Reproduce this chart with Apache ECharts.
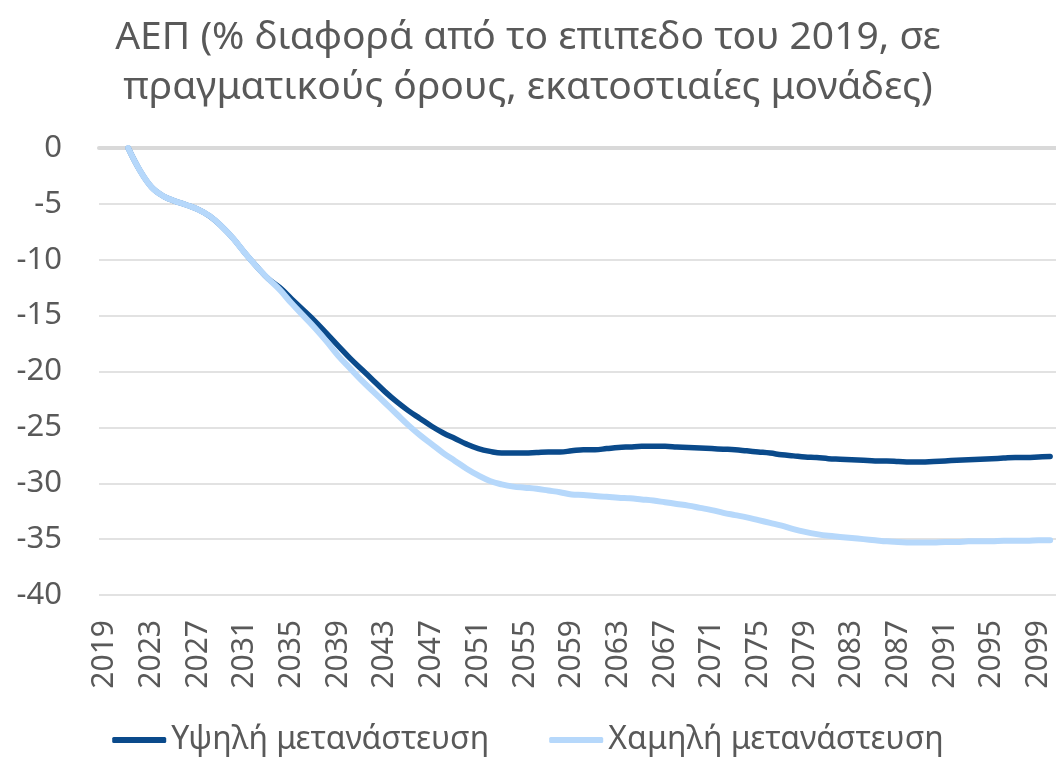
<!DOCTYPE html>
<html>
<head>
<meta charset="utf-8">
<script src="https://cdn.jsdelivr.net/npm/echarts@6/dist/echarts.min.js"></script>
<style>
  html, body { margin: 0; padding: 0; background: #fff; }
  #chart { width: 1056px; height: 757px; }
</style>
</head>
<body>
<div id="chart"></div>
<script>
// χρόνια 2019..2100
var years = [];
for (var y = 2019; y <= 2100; y++) years.push(String(y));

// Υψηλή μετανάστευση (2019, 2020 κενά)
var highMig = [null, null,
  0, -2.0, -3.5, -4.3, -4.75, -5.1, -5.5, -6.1, -7.0, -8.1,
  -9.4, -10.6, -11.7, -12.5, -13.5, -14.5, -15.5, -16.6, -17.7, -18.8,
  -19.8, -20.8, -21.8, -22.7, -23.5, -24.2, -24.9, -25.5, -26.0, -26.5,
  -26.9, -27.15, -27.3, -27.3, -27.3, -27.25, -27.2, -27.2, -27.1, -27.0,
  -27.0, -26.9, -26.8, -26.75, -26.7, -26.7, -26.7, -26.75, -26.8, -26.85,
  -26.9, -26.95, -27.0, -27.1, -27.2, -27.3, -27.45, -27.55, -27.65, -27.7,
  -27.8, -27.85, -27.9, -27.95, -28.0, -28.0, -28.05, -28.1, -28.1, -28.05,
  -28.0, -27.95, -27.9, -27.85, -27.8, -27.75, -27.7, -27.7, -27.65, -27.6
];

// Χαμηλή μετανάστευση
var lowMig = [null, null,
  0, -2.0, -3.5, -4.3, -4.75, -5.1, -5.5, -6.1, -7.0, -8.1,
  -9.4, -10.6, -11.7, -12.7, -13.9, -15.0, -16.1, -17.3, -18.6, -19.7,
  -20.8, -21.8, -22.8, -23.8, -24.8, -25.7, -26.5, -27.3, -28.0, -28.7,
  -29.3, -29.8, -30.1, -30.3, -30.4, -30.5, -30.65, -30.8, -31.0, -31.05,
  -31.15, -31.2, -31.3, -31.35, -31.45, -31.55, -31.7, -31.85, -32.0, -32.2,
  -32.4, -32.65, -32.85, -33.05, -33.3, -33.55, -33.8, -34.1, -34.35, -34.55,
  -34.7, -34.8, -34.9, -35.0, -35.1, -35.2, -35.25, -35.3, -35.3, -35.3,
  -35.25, -35.25, -35.2, -35.2, -35.2, -35.15, -35.15, -35.15, -35.1, -35.1
];

var seriesNames = ['Υψηλή μετανάστευση', 'Χαμηλή μετανάστευση'];
var FONT = 'Noto Sans';
var txt = '#595959';

var chart = echarts.init(document.getElementById('chart'));
chart.setOption({
  animation: false,
  title: {
    text: 'ΑΕΠ (% διαφορά από το επιπεδο του 2019, σε\nπραγματικούς όρους, εκατοστιαίες μονάδες)',
    left: 'center',
    top: 8,
    textStyle: { fontFamily: FONT, fontSize: 39, fontWeight: 'normal', color: txt, lineHeight: 50 }
  },
  legend: {
    bottom: -4,
    left: 'center',
    itemGap: 60,
    itemWidth: 54,
    itemHeight: 6,
    icon: 'roundRect',
    textStyle: { fontFamily: FONT, fontSize: 32, color: txt },
    data: seriesNames
  },
  grid: { left: 99, right: 0, top: 148, bottom: 162 },
  xAxis: [{
    type: 'category',
    data: years,
    boundaryGap: true,
    axisLine: { show: false, onZero: false },
    axisTick: { show: false },
    axisLabel: { interval: 3, rotate: 90, margin: 25, fontFamily: FONT, fontSize: 30, color: txt },
    splitLine: { show: false }
  }, {
    // γραμμή μηδέν
    type: 'category',
    data: years,
    position: 'top',
    axisLine: { show: true, lineStyle: { color: '#d9d9d9', width: 4 } },
    axisTick: { show: false },
    axisLabel: { show: false }
  }],
  yAxis: {
    type: 'value',
    min: -40,
    max: 0,
    interval: 5,
    axisLine: { show: false },
    axisTick: { show: false },
    axisLabel: { margin: 37, fontFamily: FONT, fontSize: 31, color: txt },
    splitLine: { lineStyle: { color: '#d9d9d9', width: 1.5 } }
  },
  series: [{
    name: seriesNames[0],
    type: 'line',
    data: highMig,
    smooth: 0.4,
    showSymbol: false,
    itemStyle: { color: '#0a4a8b' },
    lineStyle: { color: '#0a4a8b', width: 5.5, cap: 'round' },
    z: 2
  }, {
    name: seriesNames[1],
    type: 'line',
    data: lowMig,
    smooth: 0.4,
    showSymbol: false,
    itemStyle: { color: '#b6d8fb' },
    lineStyle: { color: '#b6d8fb', width: 6, cap: 'round' },
    z: 3
  }]
});
</script>
</body>
</html>
